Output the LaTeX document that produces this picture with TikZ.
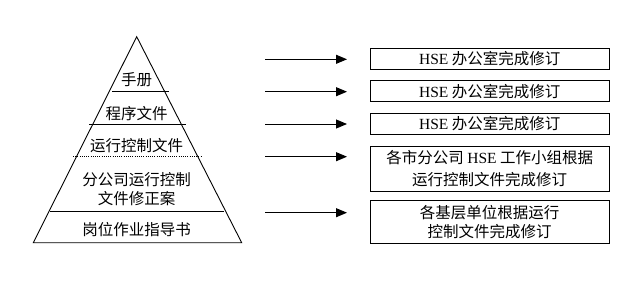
\documentclass[tikz,border=0pt]{standalone}
\usepackage{fontspec}
\setmainfont{Noto Sans CJK SC}
\newfontfamily\lat{Liberation Serif}
\usetikzlibrary{arrows.meta}
\tikzset{
  edge/.style={line width=0.9pt},
  lbl/.style={inner sep=0pt, align=center, font=\fontsize{15.5}{19}\selectfont},
  docbox/.style={draw, line width=0.9pt, minimum width=239.3pt, inner sep=0pt, align=center, font=\fontsize{15.5}{20}\selectfont},
  arr/.style={line width=0.9pt, -{Triangle[length=11pt,width=9pt]}}
}
\begin{document}
\begin{tikzpicture}[x=1pt,y=-1pt]
\useasboundingbox (0,0) rectangle (643,287);
% pyramid
\coordinate (apex) at (136.7,36.7);
\coordinate (bl) at (33.3,242.7);
\coordinate (br) at (241.7,242.7);
\draw[edge] (apex) -- (bl) -- (br) -- cycle;
\draw[edge] (112,91) -- (169,91);
\draw[edge] (89,124) -- (186,124);
\draw[line width=0.9pt, dash pattern=on 1pt off 1.2pt] (73,156.7) -- (202,156.7);
\draw[edge] (50,211.7) -- (224,211.7);
\node[lbl] (t1) at (136.7,80) {手册};
\node[lbl] (t2) at (136.7,113.3) {程序文件};
\node[lbl] (t3) at (136.7,146) {运行控制文件};
\node[lbl] (t4) at (136.7,189.5) {分公司运行控制\\文件修正案};
\node[lbl] (t5) at (136.7,230) {岗位作业指导书};
% arrows
\foreach \i/\y in {1/59.3,2/91.7,3/124,4/156.7,5/212.7}{
  \coordinate (s\i) at (265,\y);
  \coordinate (e\i) at (347,\y);
  \draw[arr] (s\i) -- (e\i);
}
% boxes
\node[docbox, minimum height=21pt] (b1) at (489.7,58.8) {{\lat HSE} 办公室完成修订};
\node[docbox, minimum height=21pt] (b2) at (489.7,91.2) {{\lat HSE} 办公室完成修订};
\node[docbox, minimum height=21pt] (b3) at (489.7,123.8) {{\lat HSE} 办公室完成修订};
\node[docbox, minimum height=45pt, font=\fontsize{15.5}{21.7}\selectfont] (b4) at (489.7,168.5) {各市分公司 {\lat HSE} 工作小组根据\\运行控制文件完成修订};
\node[docbox, minimum height=42.6pt, font=\fontsize{15.5}{19}\selectfont] (b5) at (489.7,222) {各基层单位根据运行\\控制文件完成修订};
\end{tikzpicture}
\end{document}
